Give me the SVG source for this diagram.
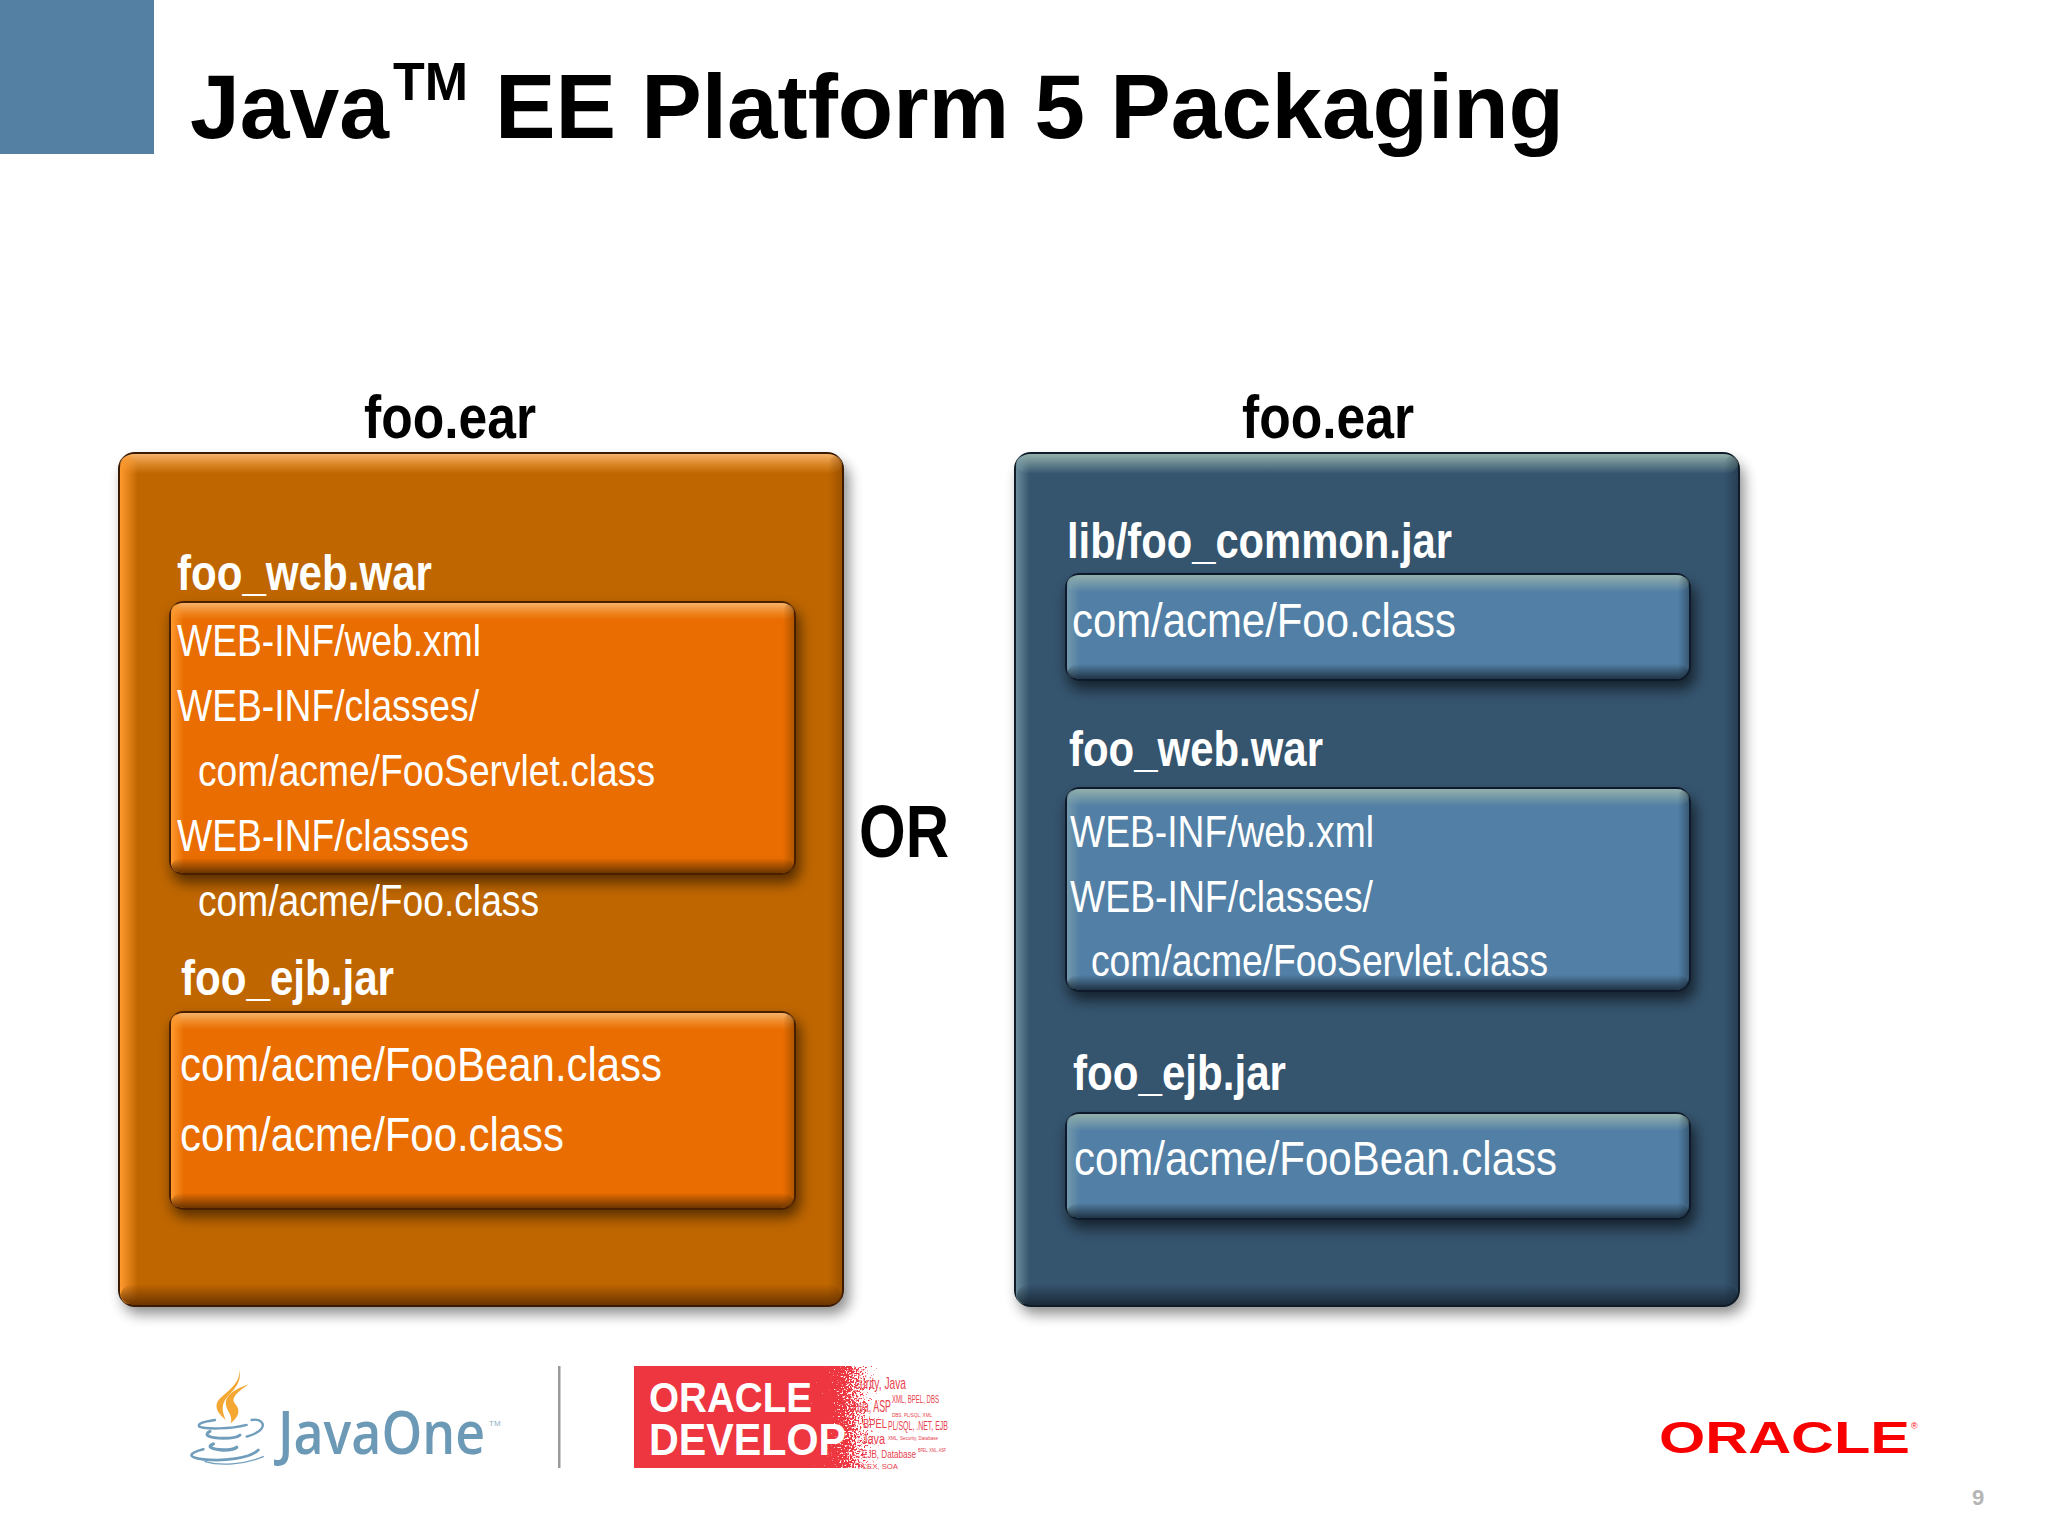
<svg xmlns="http://www.w3.org/2000/svg" width="2048" height="1536" viewBox="0 0 2048 1536">
<style>
text{font-family:"Liberation Sans",Arial,sans-serif;fill:#fff}
.t{font-weight:700;fill:#000}
.h{font-size:50px;font-weight:700}
.f{font-size:45px}
.g{font-size:48px}
.ob{fill:#bf6600;stroke:#3a1a00;stroke-width:2}
.ib{fill:#e96d00;stroke:#4a1f00;stroke-width:2}
.bb{fill:#35546e;stroke:#0f1c28;stroke-width:2}
.lb{fill:#527fa5;stroke:#0e1a2b;stroke-width:2}
.sh{fill:#000;filter:url(#blur)}
.flame{fill:#f4a733}
.cup{fill:none;stroke:#6f9dbb;stroke-linecap:round}
text.s{fill:#e8404c}
</style>
<defs>
<filter id="blur" x="-10%" y="-10%" width="120%" height="125%"><feGaussianBlur stdDeviation="7"/></filter>
<linearGradient id="oT" x1="0" y1="0" x2="0" y2="1"><stop offset="0" stop-color="#f6b36a"/><stop offset="1" stop-color="#f6a040" stop-opacity="0"/></linearGradient>
<linearGradient id="oL" x1="0" y1="0" x2="1" y2="0"><stop offset="0" stop-color="#ff9a2e"/><stop offset="1" stop-color="#ff9a2e" stop-opacity="0"/></linearGradient>
<linearGradient id="oB" x1="0" y1="1" x2="0" y2="0"><stop offset="0" stop-color="#6b3500"/><stop offset="1" stop-color="#6b3500" stop-opacity="0"/></linearGradient>
<linearGradient id="oR" x1="1" y1="0" x2="0" y2="0"><stop offset="0" stop-color="#7a3f00" stop-opacity=".5"/><stop offset="1" stop-color="#7a3f00" stop-opacity="0"/></linearGradient>
<linearGradient id="bT" x1="0" y1="0" x2="0" y2="1"><stop offset="0" stop-color="#93b0ab"/><stop offset="1" stop-color="#93b0ab" stop-opacity="0"/></linearGradient>
<linearGradient id="bL" x1="0" y1="0" x2="1" y2="0"><stop offset="0" stop-color="#7fa3ad" stop-opacity=".7"/><stop offset="1" stop-color="#7fa3ad" stop-opacity="0"/></linearGradient>
<linearGradient id="bB" x1="0" y1="1" x2="0" y2="0"><stop offset="0" stop-color="#13202c" stop-opacity=".8"/><stop offset="1" stop-color="#13202c" stop-opacity="0"/></linearGradient>
<linearGradient id="bR" x1="1" y1="0" x2="0" y2="0"><stop offset="0" stop-color="#13202c" stop-opacity=".4"/><stop offset="1" stop-color="#13202c" stop-opacity="0"/></linearGradient>
<linearGradient id="fade" gradientUnits="userSpaceOnUse" x1="780" y1="0" x2="880" y2="0"><stop offset="0" stop-color="#000"/><stop offset=".5" stop-color="#000" stop-opacity=".85"/><stop offset=".78" stop-color="#000" stop-opacity=".52"/><stop offset="1" stop-color="#000" stop-opacity=".25"/></linearGradient>
<filter id="speck" x="0" y="0" width="1" height="1" color-interpolation-filters="sRGB">
<feTurbulence type="fractalNoise" baseFrequency=".55" numOctaves="2" seed="4" result="n"/>
<feColorMatrix in="n" type="matrix" values="0 0 0 0 0 0 0 0 0 0 0 0 0 0 0 1 0 0 0 0" result="na"/>
<feComposite in="SourceGraphic" in2="na" operator="arithmetic" k1="0" k2="1" k3="1" k4="-1" result="d"/>
<feComponentTransfer in="d" result="a"><feFuncA type="linear" slope="9"/></feComponentTransfer>
<feFlood flood-color="#ed3640"/>
<feComposite in2="a" operator="in"/>
</filter>
</defs>
<rect width="2048" height="1536" fill="#fff"/>
<rect id="corner" width="154" height="154" fill="#5480a4"/>
<g id="title">
<text class="t" x="190" y="138" font-size="91" textLength="199" lengthAdjust="spacingAndGlyphs">Java</text>
<text class="t" x="393" y="100" font-size="53" textLength="75" lengthAdjust="spacingAndGlyphs">TM</text>
<text class="t" x="495" y="138" font-size="91" textLength="1069" lengthAdjust="spacingAndGlyphs">EE Platform 5 Packaging</text>
</g>
<g id="left-ear">
<text class="t" x="364" y="438" font-size="62" textLength="172" lengthAdjust="spacingAndGlyphs">foo.ear</text>
<rect class="sh" x="123" y="462" width="726" height="852" rx="16" opacity=".45"/>
<rect class="ob" x="119" y="453" width="724" height="853" rx="16"/>
<rect x="120" y="454" width="722" height="20" rx="15" fill="url(#oT)"/>
<rect x="120" y="456" width="18" height="848" rx="12" fill="url(#oL)"/>
<rect x="828" y="456" width="14" height="848" rx="10" fill="url(#oR)"/>
<rect x="121" y="1284" width="720" height="21" rx="15" fill="url(#oB)"/>
<text class="h" x="177" y="590" textLength="255" lengthAdjust="spacingAndGlyphs">foo_web.war</text>
<text class="h" x="181" y="995" textLength="213" lengthAdjust="spacingAndGlyphs">foo_ejb.jar</text>
</g>
<g id="left-war">
<rect class="sh" x="172" y="609" width="628" height="274" rx="14" opacity=".55"/>
<rect class="ib" x="170" y="602" width="625" height="272" rx="14"/>
<rect x="171" y="603" width="623" height="17" rx="13" fill="url(#oT)"/>
<rect x="171" y="604" width="13" height="268" rx="10" fill="url(#oL)"/>
<rect x="783" y="604" width="11" height="268" rx="9" fill="url(#oR)"/>
<rect x="172" y="858" width="621" height="15" rx="12" fill="url(#oB)"/>
<text class="f" x="177" y="656" textLength="304" lengthAdjust="spacingAndGlyphs">WEB-INF/web.xml</text>
<text class="f" x="177" y="721" textLength="302" lengthAdjust="spacingAndGlyphs">WEB-INF/classes/</text>
<text class="f" x="198" y="786" textLength="457" lengthAdjust="spacingAndGlyphs">com/acme/FooServlet.class</text>
<text class="f" x="177" y="851" textLength="292" lengthAdjust="spacingAndGlyphs">WEB-INF/classes</text>
<text class="f" x="198" y="916" textLength="341" lengthAdjust="spacingAndGlyphs">com/acme/Foo.class</text>
</g>
<g id="left-jar">
<rect class="sh" x="172" y="1019" width="628" height="198" rx="14" opacity=".55"/>
<rect class="ib" x="170" y="1012" width="625" height="197" rx="14"/>
<rect x="171" y="1013" width="623" height="17" rx="13" fill="url(#oT)"/>
<rect x="171" y="1014" width="13" height="193" rx="10" fill="url(#oL)"/>
<rect x="783" y="1014" width="11" height="193" rx="9" fill="url(#oR)"/>
<rect x="172" y="1193" width="621" height="15" rx="12" fill="url(#oB)"/>
<text class="g" x="180" y="1081" textLength="482" lengthAdjust="spacingAndGlyphs">com/acme/FooBean.class</text>
<text class="g" x="180" y="1151" textLength="384" lengthAdjust="spacingAndGlyphs">com/acme/Foo.class</text>
</g>
<text id="or" class="t" x="859" y="857" font-size="74" textLength="90" lengthAdjust="spacingAndGlyphs">OR</text>
<g id="right-ear">
<text class="t" x="1242" y="438" font-size="62" textLength="172" lengthAdjust="spacingAndGlyphs">foo.ear</text>
<rect class="sh" x="1019" y="462" width="725" height="852" rx="16" opacity=".45"/>
<rect class="bb" x="1015" y="453" width="724" height="853" rx="16"/>
<rect x="1016" y="454" width="722" height="20" rx="15" fill="url(#bT)"/>
<rect x="1016" y="456" width="14" height="848" rx="10" fill="url(#bL)"/>
<rect x="1724" y="456" width="14" height="848" rx="10" fill="url(#bR)"/>
<rect x="1017" y="1284" width="720" height="21" rx="15" fill="url(#bB)"/>
<text class="h" x="1067" y="558" textLength="385" lengthAdjust="spacingAndGlyphs">lib/foo_common.jar</text>
<text class="h" x="1069" y="766" textLength="254" lengthAdjust="spacingAndGlyphs">foo_web.war</text>
<text class="h" x="1073" y="1090" textLength="213" lengthAdjust="spacingAndGlyphs">foo_ejb.jar</text>
</g>
<g id="right-lib">
<rect class="sh" x="1068" y="583" width="627" height="106" rx="14" opacity=".6"/>
<rect class="lb" x="1066" y="574" width="624" height="106" rx="14"/>
<rect x="1067" y="575" width="622" height="17" rx="13" fill="url(#bT)"/>
<rect x="1067" y="576" width="13" height="102" rx="10" fill="url(#bL)"/>
<rect x="1678" y="576" width="11" height="102" rx="9" fill="url(#bR)"/>
<rect x="1068" y="664" width="620" height="15" rx="12" fill="url(#bB)"/>
<text class="g" x="1072" y="637" textLength="384" lengthAdjust="spacingAndGlyphs">com/acme/Foo.class</text>
</g>
<g id="right-war">
<rect class="sh" x="1068" y="797" width="627" height="203" rx="14" opacity=".6"/>
<rect class="lb" x="1066" y="788" width="624" height="203" rx="14"/>
<rect x="1067" y="789" width="622" height="17" rx="13" fill="url(#bT)"/>
<rect x="1067" y="790" width="13" height="199" rx="10" fill="url(#bL)"/>
<rect x="1678" y="790" width="11" height="199" rx="9" fill="url(#bR)"/>
<rect x="1068" y="975" width="620" height="15" rx="12" fill="url(#bB)"/>
<text class="f" x="1070" y="847" textLength="304" lengthAdjust="spacingAndGlyphs">WEB-INF/web.xml</text>
<text class="f" x="1070" y="912" textLength="303" lengthAdjust="spacingAndGlyphs">WEB-INF/classes/</text>
<text class="f" x="1091" y="976" textLength="457" lengthAdjust="spacingAndGlyphs">com/acme/FooServlet.class</text>
</g>
<g id="right-jar">
<rect class="sh" x="1068" y="1122" width="627" height="106" rx="14" opacity=".6"/>
<rect class="lb" x="1066" y="1113" width="624" height="106" rx="14"/>
<rect x="1067" y="1114" width="622" height="17" rx="13" fill="url(#bT)"/>
<rect x="1067" y="1115" width="13" height="102" rx="10" fill="url(#bL)"/>
<rect x="1678" y="1115" width="11" height="102" rx="9" fill="url(#bR)"/>
<rect x="1068" y="1203" width="620" height="15" rx="12" fill="url(#bB)"/>
<text class="g" x="1074" y="1175" textLength="483" lengthAdjust="spacingAndGlyphs">com/acme/FooBean.class</text>
</g>
<g id="javaone">
<g transform="translate(180 1360) scale(.3333)">
<path class="flame" d="M174 12C192 55 155 85 128 108C100 130 104 152 137 180C124 150 124 130 146 106C172 80 190 55 174 12Z"/>
<path class="flame" d="M207 73C170 85 133 105 138 135C140 155 160 165 152 190C184 165 178 145 164 130C152 115 172 95 207 73Z"/>
<path class="cup" stroke-width="7" d="M105 180C70 185 50 192 58 200C75 208 150 208 200 195"/>
<path class="cup" stroke-width="7" d="M215 180C240 175 255 190 245 205C235 220 215 225 200 230"/>
<path class="cup" stroke-width="9" d="M90 214C70 224 85 235 130 235C160 235 175 230 180 225"/>
<path class="cup" stroke-width="10" d="M100 252C82 258 90 268 130 270C150 270 165 266 170 262"/>
<path class="cup" stroke-width="8" d="M70 268C25 280 20 292 70 298C130 305 210 295 235 270"/>
<path class="cup" stroke-width="4" d="M75 305C120 318 190 315 250 290"/>
</g>
<text x="278" y="1454" font-size="60" font-weight="600" textLength="207" lengthAdjust="spacingAndGlyphs" style="font-family:'Open Sans','Noto Sans',sans-serif;fill:#6c9ab6">JavaOne</text>
<text x="489" y="1426" font-size="8" style="fill:#8fb0c6">TM</text>
</g>
<rect id="divider" x="558" y="1366" width="2.5" height="102" fill="#9a9a9a"/>
<g id="oracle-develop">
<rect x="634" y="1366" width="170" height="102" fill="#ed3640"/>
<rect x="780" y="1366" width="100" height="102" fill="url(#fade)" filter="url(#speck)"/>
<text x="649" y="1412" font-size="42" font-weight="700" textLength="163" lengthAdjust="spacingAndGlyphs">ORACLE</text>
<text x="649" y="1455" font-size="44" font-weight="700" textLength="197" lengthAdjust="spacingAndGlyphs">DEVELOP</text>
<text class="s" x="855" y="1389" font-size="17" textLength="51" lengthAdjust="spacingAndGlyphs">curity, Java</text>
<text class="s" x="892" y="1403" font-size="11" textLength="47" lengthAdjust="spacingAndGlyphs">XML, BPEL, DBS</text>
<text class="s" x="850" y="1412" font-size="17" textLength="41" lengthAdjust="spacingAndGlyphs">Java, ASP</text>
<text class="s" x="892" y="1417" font-size="6" textLength="40" lengthAdjust="spacingAndGlyphs">DBS, PL/SQL, XML</text>
<text class="s" x="863" y="1428" font-size="13" textLength="24" lengthAdjust="spacingAndGlyphs">BPEL</text>
<text class="s" x="888" y="1430" font-size="12" textLength="60" lengthAdjust="spacingAndGlyphs">PL/SQL, .NET, EJB</text>
<text class="s" x="888" y="1440" font-size="6" textLength="50" lengthAdjust="spacingAndGlyphs">XML, Security, Database</text>
<text class="s" x="862" y="1444" font-size="14" textLength="23" lengthAdjust="spacingAndGlyphs">Java</text>
<text class="s" x="918" y="1452" font-size="5" textLength="28" lengthAdjust="spacingAndGlyphs">BPEL, XML, ASP</text>
<text class="s" x="862" y="1458" font-size="11" textLength="54" lengthAdjust="spacingAndGlyphs">EJB, Database</text>
<text class="s" x="858" y="1469" font-size="8" textLength="40" lengthAdjust="spacingAndGlyphs">FLEX, SOA</text>
</g>
<g id="oracle-logo">
<text x="1659" y="1453" font-size="45" font-weight="700" textLength="251" lengthAdjust="spacingAndGlyphs" style="fill:#f80000">ORACLE</text>
<text x="1911" y="1429" font-size="9" style="fill:#f80000">®</text>
</g>
<text id="page" x="1972" y="1505" font-size="22" font-weight="700" style="fill:#b5b5b5">9</text>
</svg>
